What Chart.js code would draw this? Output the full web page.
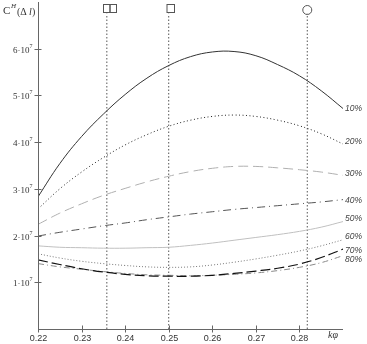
<!doctype html>
<html>
<head>
  <meta charset="utf-8" />
  <title>C^H(Δl) vs kφ</title>
  <style>
    body { margin:0; background:#fff; }
    #wrap { width:367px; height:344px; }
  </style>
  <script src="https://cdn.jsdelivr.net/npm/chart.js"></script>
</head>
<body>
<div id="wrap"><canvas id="chart" width="367" height="344"></canvas></div>
<script>
// k*phi sample points
const kphi = [0.22, 0.225, 0.23, 0.235, 0.24, 0.245, 0.25, 0.255, 0.26, 0.265, 0.27, 0.275, 0.28, 0.285, 0.29];
// C^H values, in units of 1e7
const c10 = [2.83, 3.54, 4.12, 4.60, 5.02, 5.37, 5.64, 5.83, 5.93, 5.94, 5.85, 5.66, 5.42, 5.10, 4.72];
const c20 = [2.57, 3.00, 3.36, 3.67, 3.94, 4.16, 4.34, 4.47, 4.55, 4.58, 4.55, 4.47, 4.35, 4.18, 3.96];
const c30 = [2.24, 2.48, 2.68, 2.86, 3.01, 3.15, 3.27, 3.37, 3.44, 3.48, 3.48, 3.45, 3.41, 3.36, 3.29];
const c40 = [1.99, 2.07, 2.14, 2.21, 2.27, 2.34, 2.40, 2.46, 2.51, 2.56, 2.60, 2.64, 2.68, 2.72, 2.77];
const c50 = [1.78, 1.75, 1.74, 1.73, 1.73, 1.74, 1.75, 1.79, 1.84, 1.90, 1.96, 2.02, 2.09, 2.18, 2.30];
const c60 = [1.61, 1.52, 1.45, 1.40, 1.36, 1.33, 1.32, 1.33, 1.37, 1.43, 1.50, 1.58, 1.67, 1.78, 1.91];
const c70 = [1.48, 1.38, 1.29, 1.22, 1.17, 1.14, 1.13, 1.13, 1.15, 1.19, 1.24, 1.30, 1.39, 1.53, 1.71];
const c80 = [1.40, 1.33, 1.28, 1.23, 1.19, 1.16, 1.15, 1.14, 1.15, 1.17, 1.20, 1.25, 1.32, 1.42, 1.57];
const seriesLabels = ['10%', '20%', '30%', '40%', '50%', '60%', '70%', '80%'];
const xTicks = [0.22, 0.23, 0.24, 0.25, 0.26, 0.27, 0.28];
const xTickLabels = ['0.22', '0.23', '0.24', '0.25', '0.26', '0.27', '0.28'];
const yTicks = [1, 2, 3, 4, 5, 6];
const yTickLabels = ['1·10', '2·10', '3·10', '4·10', '5·10', '6·10'];
// vertical reference lines (kφ) and their top marker heights (units of 1e7)
const refLines = [0.2358, 0.25, 0.2818];
const refTop = 6.75;

const SCALE = 1e7;
const allSeries = [c10, c20, c30, c40, c50, c60, c70, c80];
const styles = [
  { color:'#333', dash:[], width:1 },
  { color:'#222', dash:[1,2.5], width:1 },
  { color:'#b0b0b0', dash:[10,5], width:1 },
  { color:'#555', dash:[8,4,1,4], width:1 },
  { color:'#c0c0c0', dash:[], width:1 },
  { color:'#777', dash:[1,2], width:1 },
  { color:'#111', dash:[10,4], width:1.2 },
  { color:'#8a8a8a', dash:[6,3,1,3], width:1 }
];
// small pixel nudges for the right-hand labels
const labelNudge = [0, -2, -2, 1, -3, -3, 2, 4];

const datasets = allSeries.map((arr, i) => ({
  label: seriesLabels[i],
  data: kphi.map((x, j) => ({ x: x, y: arr[j] * SCALE })),
  borderColor: styles[i].color,
  borderDash: styles[i].dash,
  borderWidth: styles[i].width,
  pointRadius: 0,
  tension: 0.4,
  fill: false
}));
refLines.forEach(v => {
  datasets.push({
    label: 'ref',
    data: [{ x: v, y: 0 }, { x: v, y: refTop * SCALE }],
    borderColor: '#555',
    borderDash: [1.5, 2],
    borderWidth: 1,
    pointRadius: 0,
    fill: false
  });
});

const axesPlugin = {
  id: 'axesPlugin',
  afterDraw(chart) {
    const ctx = chart.ctx;
    const xs = chart.scales.x, ys = chart.scales.y;
    const a = chart.chartArea;
    const x0 = Math.round(xs.getPixelForValue(0.22)) + 0.5;
    const yb = Math.round(ys.getPixelForValue(0)) + 0.5;
    ctx.save();
    ctx.strokeStyle = '#666';
    ctx.lineWidth = 1;
    ctx.setLineDash([]);
    ctx.beginPath();
    ctx.moveTo(x0, a.top);
    ctx.lineTo(x0, yb);
    ctx.lineTo(a.right, yb);
    ctx.stroke();

    // y ticks and labels
    ctx.fillStyle = '#333';
    yTicks.forEach((v, i) => {
      const py = Math.round(ys.getPixelForValue(v * SCALE)) + 0.5;
      ctx.beginPath();
      ctx.moveTo(x0 - 4, py);
      ctx.lineTo(x0 + 3, py);
      ctx.stroke();
      ctx.font = '9px "Liberation Serif", serif';
      ctx.textAlign = 'right';
      ctx.textBaseline = 'middle';
      ctx.fillText(yTickLabels[i], x0 - 9, py + 1);
      ctx.font = '6px "Liberation Serif", serif';
      ctx.textAlign = 'left';
      ctx.fillText('7', x0 - 9, py - 3);
    });

    // x ticks and labels
    xTicks.forEach((v, i) => {
      const px = Math.round(xs.getPixelForValue(v)) + 0.5;
      ctx.beginPath();
      ctx.moveTo(px, yb - 4);
      ctx.lineTo(px, yb + 3);
      ctx.stroke();
      ctx.font = '9px "Liberation Sans", Arial, sans-serif';
      ctx.textAlign = 'center';
      ctx.textBaseline = 'middle';
      ctx.fillText(xTickLabels[i], px, yb + 9);
    });

    // axis titles
    ctx.font = 'italic 10px "Liberation Serif", serif';
    ctx.textAlign = 'left';
    ctx.textBaseline = 'middle';
    ctx.fillText('kφ', a.right - 15, yb + 6);
    ctx.font = '11px "Liberation Serif", serif';
    ctx.fillText('C', 3, 11);
    ctx.font = 'italic 7px "Liberation Serif", serif';
    ctx.fillText('H', 11, 6);
    ctx.font = '10px "Liberation Serif", serif';
    ctx.fillText('(Δ', 17, 12);
    ctx.font = 'italic 10px "Liberation Serif", serif';
    ctx.fillText('l', 29, 12);
    ctx.font = '10px "Liberation Serif", serif';
    ctx.fillText(')', 32, 12);

    // top markers of the reference lines
    ctx.strokeStyle = '#555';
    const p1 = Math.round(xs.getPixelForValue(refLines[0]));
    ctx.strokeRect(p1 - 3.5, 4.5, 6.5, 8);
    ctx.strokeRect(p1 + 3, 4.5, 6.5, 8);
    const p2 = Math.round(xs.getPixelForValue(refLines[1]));
    ctx.strokeRect(p2 - 2, 4.5, 7.5, 8);
    const p3 = xs.getPixelForValue(refLines[2]);
    ctx.beginPath();
    ctx.arc(p3, 10, 4.5, 0, Math.PI * 2);
    ctx.stroke();

    // series labels at right end
    ctx.fillStyle = '#444';
    ctx.font = 'italic 8.5px "Liberation Sans", Arial, sans-serif';
    ctx.textAlign = 'left';
    allSeries.forEach((arr, i) => {
      const py = ys.getPixelForValue(arr[arr.length - 1] * SCALE) + labelNudge[i];
      ctx.fillText(seriesLabels[i], a.right + 2, py);
    });
    ctx.restore();
  }
};

new Chart(document.getElementById('chart').getContext('2d'), {
  type: 'line',
  data: { datasets: datasets },
  options: {
    responsive: false,
    animation: false,
    layout: { padding: { left: 38, right: 24, top: 2, bottom: 15 } },
    plugins: { legend: { display: false }, tooltip: { enabled: false } },
    scales: {
      x: { type: 'linear', min: 0.22, max: 0.29, display: false },
      y: { type: 'linear', min: 0, max: 7 * SCALE, display: false }
    }
  },
  plugins: [axesPlugin]
});
</script>
</body>
</html>
